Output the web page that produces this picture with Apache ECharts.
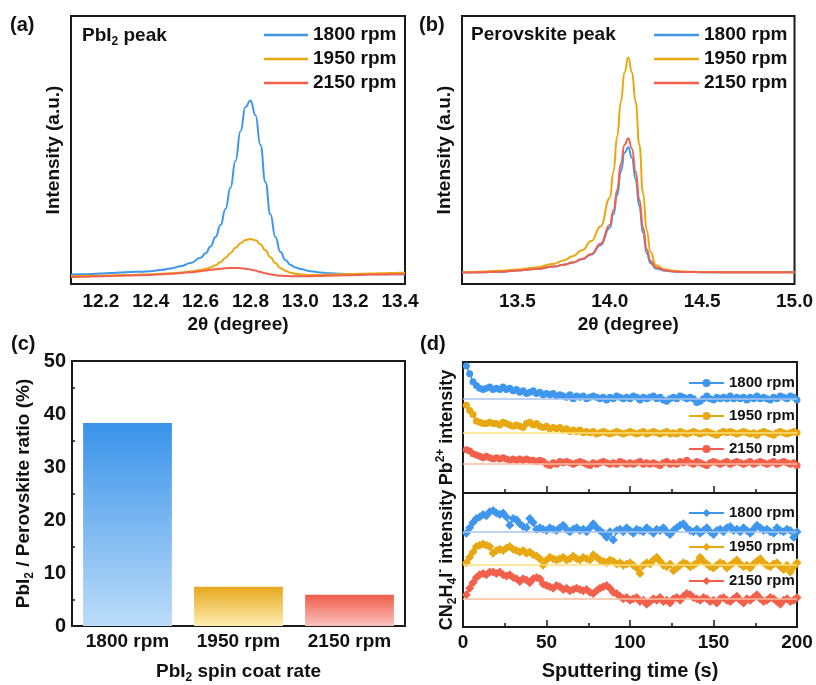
<!DOCTYPE html>
<html><head><meta charset="utf-8">
<script src="https://cdn.jsdelivr.net/npm/echarts@6/dist/echarts.min.js"></script>
<style>html,body{margin:0;padding:0;background:#fff}#c{width:816px;height:685px}</style>
</head><body><div id="c"></div>
<script>
// ---------- Panel (a): PbI2 peak ----------
const thetaA = [12.08,12.12,12.16,12.20,12.24,12.28,12.32,12.36,12.40,12.44,12.48,12.52,12.56,12.60,
  12.62,12.64,12.66,12.68,12.70,12.72,12.74,12.76,12.78,12.80,12.82,12.84,12.86,12.88,12.90,12.92,12.94,12.96,12.98,
  13.00,13.04,13.08,13.12,13.16,13.20,13.24,13.28,13.32,13.36,13.40,13.42];
const blueA = [3.5,3.6,3.7,3.9,4.1,4.3,4.5,4.6,4.8,5.2,5.8,6.6,7.8,9.8,
  11.5,14.0,17.5,22.0,28.0,36.0,46.0,57.0,66.0,68.5,63.0,52.0,38.0,26.0,17.5,12.0,9.0,7.2,6.2,
  5.6,4.8,4.3,4.0,3.8,3.7,3.7,3.6,3.6,3.6,3.6,3.6];
const yellowA = [3.0,3.0,3.1,3.1,3.2,3.3,3.4,3.5,3.6,3.8,4.0,4.3,4.7,5.2,
  5.6,6.2,7.0,8.2,9.8,11.6,13.5,15.2,16.4,16.8,16.3,14.8,12.6,10.0,7.8,6.0,4.9,4.2,3.8,
  3.6,3.4,3.4,3.5,3.6,3.7,3.8,3.9,4.0,4.1,4.2,4.2];
const redA = [2.6,2.7,2.8,2.9,3.0,3.1,3.2,3.3,3.4,3.6,3.8,4.1,4.4,4.8,
  5.0,5.3,5.5,5.7,5.9,6.0,6.0,5.9,5.7,5.4,5.0,4.5,4.0,3.6,3.3,3.1,3.0,2.9,2.9,
  2.9,2.9,3.0,3.1,3.2,3.3,3.4,3.5,3.5,3.6,3.6,3.6];
const ticksA = [12.2,12.4,12.6,12.8,13.0,13.2,13.4];

// ---------- Panel (b): Perovskite peak ----------
const thetaB = [13.2,13.3,13.4,13.5,13.6,13.7,13.75,13.8,13.85,13.9,13.95,
  14.0,14.02,14.04,14.06,14.08,14.1,14.12,14.14,14.16,14.18,14.2,14.22,
  14.25,14.3,14.35,14.4,14.5,14.6,14.7,14.8,14.9,15.0];
const blueB = [4.3,4.4,4.6,5.0,5.6,6.5,7.2,8.0,9.2,11.0,14.5,
  21.0,26.0,33.0,42.0,49.0,51.0,47.0,39.0,29.0,19.0,11.5,7.8,
  5.8,4.9,4.6,4.5,4.4,4.4,4.4,4.4,4.4,4.4];
const yellowB = [4.4,4.6,4.9,5.4,6.2,7.6,8.8,10.4,12.6,16.0,21.5,
  32.0,42.0,55.0,68.0,79.0,84.5,79.0,68.0,52.0,34.0,20.0,12.0,
  7.0,5.4,4.9,4.7,4.5,4.4,4.4,4.4,4.4,4.4];
const redB = [4.3,4.4,4.6,5.0,5.6,6.5,7.2,8.0,9.3,11.2,15.0,
  22.0,27.5,35.0,45.0,52.0,54.4,50.5,42.0,31.5,21.0,13.0,8.6,
  6.2,5.1,4.7,4.5,4.4,4.4,4.4,4.4,4.4,4.4];
const ticksB = [13.5,14.0,14.5,15.0];

// ---------- Panel (c): ratio bars ----------
const rateCats = ['1800 rpm','1950 rpm','2150 rpm'];
const ratioVals = [38.3, 7.4, 5.9];

// ---------- Panel (d): depth profiles ----------
const timeD = [2,4,6,8,10,12,14,16,18,20,22,24,26,28,30,32,34,36,38,40,
  42,44,46,48,50,52,54,56,58,60,62,64,66,68,70,72,74,76,78,80,
  82,84,86,88,90,92,94,96,98,100,102,104,106,108,110,112,114,116,118,120,
  122,124,126,128,130,132,134,136,138,140,142,144,146,148,150,152,154,156,158,160,
  162,164,166,168,170,172,174,176,178,180,182,184,186,188,190,192,194,196,198,200];
const pbBlue = [97,91,85,82,80,79,80,81,79,80, 79,81,79,80,78,79,77,78,76,77,
  78,76,77,75,76,75,76,74,75,74, 73,75,72,74,73,74,72,73,74,73,
  72,73,71,73,72,74,73,72,73,72, 74,73,71,73,72,73,74,72,73,71,
  70,72,73,72,74,73,72,73,72,69, 70,72,74,72,71,73,72,73,72,74,
  72,73,72,73,71,73,72,74,72,73, 72,71,73,72,74,73,72,74,73,71];
const pbYellow = [67,63,60,55,54,53,53,54,53,53, 52,54,53,52,51,52,51,50,53,54,
  52,53,51,50,51,49,50,49,50,48, 49,47,48,47,48,46,47,46,47,45,
  46,47,46,45,46,47,46,45,46,47, 46,45,46,47,45,46,47,46,45,46,
  47,45,46,45,47,46,45,46,47,46, 45,46,47,46,45,44,46,47,46,47,
  46,45,46,47,46,45,46,44,46,47, 46,45,44,46,47,46,45,46,47,46];
const pbRed = [33,32,30,29,28,27,28,27,26,27, 26,27,26,25,26,25,26,25,26,25,
  25,24,25,24,22,21,23,22,24,23, 24,23,22,23,24,23,22,21,23,22,
  23,24,23,22,23,22,24,23,22,23, 22,23,24,22,23,22,23,22,21,23,
  24,22,23,22,24,23,25,23,22,24, 23,22,21,23,24,23,22,23,24,22,
  23,24,23,22,23,24,22,23,24,23, 22,23,24,22,23,24,23,22,23,21];
const faBlue = [70,74,78,81,82,84,83,86,87,85, 84,85,82,76,81,80,77,75,74,81,
  78,73,74,73,72,74,73,72,74,76, 73,71,73,74,72,73,71,74,77,74,
  72,70,67,71,65,72,73,71,74,72, 70,73,72,71,74,72,70,73,72,74,
  71,69,72,74,76,77,74,72,71,73, 70,72,74,71,69,72,73,71,74,75,
  72,73,71,74,72,70,73,76,74,72, 73,71,70,74,72,71,73,72,67,71];
const faYellow = [48,52,56,60,61,62,61,60,55,57, 58,57,59,60,58,57,56,57,55,56,
  54,53,51,46,50,52,51,50,51,52, 50,51,53,51,50,52,51,50,54,52,
  50,49,48,50,49,47,48,46,47,48, 46,44,40,46,48,47,50,52,49,46,
  45,47,42,44,46,48,47,45,46,48, 52,49,47,45,44,46,48,47,44,46,
  48,50,47,45,46,44,47,49,51,48, 46,45,47,48,45,43,46,41,45,48];
const faRed = [24,29,33,37,39,40,39,41,41,40, 41,39,38,39,37,36,34,36,35,33,
  36,37,36,32,31,30,29,31,30,28, 29,27,28,29,28,27,28,26,25,27,
  29,30,31,29,26,25,23,21,22,20, 21,22,19,20,17,19,21,20,22,19,
  20,18,21,22,20,23,25,24,22,21, 20,22,21,19,20,18,21,22,20,19,
  21,23,20,18,21,20,22,24,21,19, 20,22,21,19,17,20,21,19,20,22];
const pbBase = [72.3, 46.3, 22.1];
const faBase = [71.1, 46.3, 20.9];

const speeds = ['1800 rpm','1950 rpm','2150 rpm'];

// ---------- styling ----------
const FONT = '"Liberation Sans", Arial, Helvetica, sans-serif';
const INK = '#111';
const COL = ['#3e97ec', '#e8a812', '#f2604c'];
const LIGHT = ['#a9c4ee', '#fde27e', '#fdbb9c'];
const GRAD = [['#3a93ea','#bcdcf8'], ['#e6a71c','#fdeeb2'], ['#f05c4a','#f8c2bc']];

function mkRich(size) {
  const sub = Math.round(size * 0.65);
  return {
    n: {fontSize: size, fontWeight: 'bold', fontFamily: FONT, color: INK, lineHeight: size + 6},
    s: {fontSize: sub, fontWeight: 'bold', fontFamily: FONT, color: INK, lineHeight: sub, verticalAlign: 'bottom'},
    p: {fontSize: sub, fontWeight: 'bold', fontFamily: FONT, color: INK, lineHeight: sub, verticalAlign: 'top'}
  };
}
const txt = (size) => ({fontSize: size, fontWeight: 'bold', fontFamily: FONT, color: INK});
const zip = (xs, ys) => xs.map((x, i) => [x, ys[i]]);
const nameOf = (p, s) => p + '|' + s;
const fmtLegend = (n) => n.split('|')[1];

const gridBase = {show: true, borderColor: '#1a1a1a', borderWidth: 2, containLabel: false};
const grids = [
  Object.assign({left: 71, top: 16, width: 334, height: 268}, gridBase),
  Object.assign({left: 462, top: 16, width: 334, height: 268}, gridBase),
  Object.assign({left: 72, top: 361, width: 333, height: 267}, gridBase),
  Object.assign({left: 463, top: 362, width: 334, height: 131}, gridBase),
  Object.assign({left: 463, top: 493, width: 334, height: 134}, gridBase)
];

const noLine = {show: false};
const xAxes = [
  {type: 'value', gridIndex: 0, min: 12.08, max: 13.42, axisLine: noLine, axisTick: noLine, splitLine: noLine,
   axisLabel: Object.assign({customValues: ticksA, formatter: v => v.toFixed(1), margin: 8}, txt(19)),
   name: '2θ (degree)', nameLocation: 'middle', nameGap: 31, nameTextStyle: txt(19)},
  {type: 'value', gridIndex: 1, min: 13.2, max: 15.0, axisLine: noLine, axisTick: noLine, splitLine: noLine,
   axisLabel: Object.assign({customValues: ticksB, formatter: v => v.toFixed(1), margin: 8}, txt(19)),
   name: '2θ (degree)', nameLocation: 'middle', nameGap: 31, nameTextStyle: txt(19)},
  {type: 'category', gridIndex: 2, data: rateCats, axisLine: noLine, axisTick: noLine,
   axisLabel: Object.assign({margin: 6}, txt(19)),
   name: '{n|PbI}{s|2}{n| spin coat rate}', nameLocation: 'middle', nameGap: 33,
   nameTextStyle: {rich: mkRich(19)}},
  {type: 'value', gridIndex: 3, min: 0, max: 200, interval: 50, axisLine: noLine, splitLine: noLine,
   axisLabel: {show: false},
   axisTick: {inside: true, length: 7, lineStyle: {color: '#1a1a1a', width: 1.5}},
   minorTick: {show: true, splitNumber: 2, length: 4, lineStyle: {color: '#1a1a1a', width: 1.5}}},
  {type: 'value', gridIndex: 4, min: 0, max: 200, interval: 50, axisLine: noLine, splitLine: noLine,
   axisLabel: Object.assign({margin: 6}, txt(19)),
   axisTick: {inside: true, length: 7, lineStyle: {color: '#1a1a1a', width: 1.5}},
   minorTick: {show: true, splitNumber: 2, length: 4, lineStyle: {color: '#1a1a1a', width: 1.5}},
   name: 'Sputtering time (s)', nameLocation: 'middle', nameGap: 34, nameTextStyle: txt(20)}
];

const hiddenY = {axisLine: noLine, axisTick: noLine, axisLabel: {show: false}, splitLine: noLine};
const yAxes = [
  Object.assign({type: 'value', gridIndex: 0, min: 0, max: 100,
    name: 'Intensity (a.u.)', nameLocation: 'middle', nameGap: 8, nameTextStyle: txt(19)}, hiddenY),
  Object.assign({type: 'value', gridIndex: 1, min: 0, max: 100,
    name: 'Intensity (a.u.)', nameLocation: 'middle', nameGap: 8, nameTextStyle: txt(19)}, hiddenY),
  {type: 'value', gridIndex: 2, min: 0, max: 50, interval: 10, axisLine: noLine, splitLine: noLine,
   axisLabel: Object.assign({margin: 6}, txt(20)),
   axisTick: {inside: true, length: 5, lineStyle: {color: '#1a1a1a', width: 1.5}},
   minorTick: {show: true, splitNumber: 2, length: 3, lineStyle: {color: '#1a1a1a', width: 1.5}},
   name: '{n|PbI}{s|2}{n| / Perovskite ratio (%)}', nameLocation: 'middle', nameGap: 36,
   nameTextStyle: {rich: mkRich(19)}},
  Object.assign({type: 'value', gridIndex: 3, min: 0, max: 100,
    name: '{n|Pb}{p|2+}{n| intensity}', nameLocation: 'middle', nameGap: 4,
    nameTextStyle: {rich: mkRich(18)}}, hiddenY),
  Object.assign({type: 'value', gridIndex: 4, min: 0, max: 100,
    name: '{n|CN}{s|2}{n|H}{s|4}{n|I}{p|-}{n| intensity}', nameLocation: 'middle', nameGap: 4,
    nameTextStyle: {rich: mkRich(18)}}, hiddenY)
];

const series = [];
[blueA, yellowA, redA].forEach((d, i) => series.push({
  name: nameOf('a', speeds[i]), type: 'line', xAxisIndex: 0, yAxisIndex: 0,
  data: zip(thetaA, d), symbol: 'none', smooth: 0.5, smoothMonotone: 'x',
  lineStyle: {width: 2, color: COL[i]}, itemStyle: {color: COL[i]}
}));
[blueB, yellowB, redB].forEach((d, i) => series.push({
  name: nameOf('b', speeds[i]), type: 'line', xAxisIndex: 1, yAxisIndex: 1,
  data: zip(thetaB, d), symbol: 'none', smooth: 0.5, smoothMonotone: 'x',
  lineStyle: {width: 2, color: COL[i]}, itemStyle: {color: COL[i]}
}));
series.push({
  type: 'bar', xAxisIndex: 2, yAxisIndex: 2, barWidth: '80%',
  data: ratioVals.map((v, i) => ({value: v, itemStyle: {
    color: {type: 'linear', x: 0, y: 0, x2: 0, y2: 1,
      colorStops: [{offset: 0, color: GRAD[i][0]}, {offset: 1, color: GRAD[i][1]}]}}}))
});
function depth(p, vals, base, sym, size, xi) {
  vals.forEach((d, i) => series.push({
    name: nameOf(p, speeds[i]), type: 'line', xAxisIndex: xi, yAxisIndex: xi,
    data: zip(timeD, d), symbol: sym, symbolSize: size, showAllSymbol: true,
    lineStyle: {width: 1.5, color: COL[i]}, itemStyle: {color: COL[i]},
    markLine: {silent: true, symbol: 'none', label: {show: false}, animation: false,
      lineStyle: {color: LIGHT[i], width: 1.6, type: 'solid'},
      data: [{yAxis: base[i]}]}
  }));
}
depth('d1', [pbBlue, pbYellow, pbRed], pbBase, 'circle', 7, 3);
depth('d2', [faBlue, faYellow, faRed], faBase, 'diamond', 9, 4);

function legend(p, left, top, w, h, lh, gap, size, icon) {
  const l = {data: speeds.map(s => nameOf(p, s)), orient: 'vertical', left: left, top: top,
    itemWidth: w, itemHeight: h, itemGap: gap, padding: 0, formatter: fmtLegend,
    selectedMode: false,
    textStyle: Object.assign({lineHeight: lh}, txt(size))};
  if (icon) l.icon = icon;
  return l;
}

const titles = [
  {text: '(a)', left: 10, top: 15},
  {text: '(b)', left: 419, top: 15},
  {text: '(c)', left: 11, top: 334},
  {text: '(d)', left: 420, top: 334}
].map(t => Object.assign(t, {padding: 0, textStyle: txt(20)}));
titles.push({text: '{n|PbI}{s|2}{n| peak}', left: 82, top: 23, padding: 0, textStyle: {rich: mkRich(19)}});
titles.push({text: 'Perovskite peak', left: 471, top: 25, padding: 0, textStyle: txt(19)});

const chart = echarts.init(document.getElementById('c'), null, {renderer: 'canvas'});
chart.setOption({
  backgroundColor: '#fff',
  animation: false,
  title: titles,
  legend: [
    legend('a', 264, 25, 44, 2.5, 20, 4, 19, 'rect'),
    legend('b', 654, 25, 45, 2.5, 20, 4, 19, 'rect'),
    legend('d1', 688, 375, 35, 10, 16, 17, 15),
    legend('d2', 688, 505, 35, 10, 16, 18, 15)
  ],
  grid: grids, xAxis: xAxes, yAxis: yAxes, series: series
});
</script></body></html>
